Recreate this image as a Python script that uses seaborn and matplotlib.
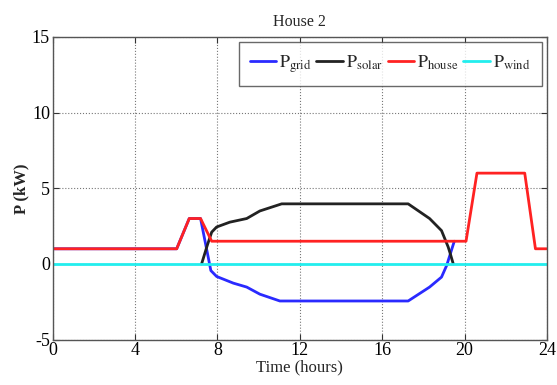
import matplotlib
matplotlib.use("Agg")
import matplotlib.pyplot as plt
import seaborn as sns
import pandas as pd

# ---- data ----
t_grid = [0, 6.02, 6.63, 7.18, 7.68, 7.96, 8.77, 9.42, 10.06, 11.03, 17.26, 18.3, 18.88, 19.13, 19.5]
p_grid = [1, 1, 3, 3, -0.44, -0.83, -1.27, -1.53, -2.0, -2.45, -2.45, -1.53, -0.87, -0.1, 1.5]

t_solar = [7.23, 7.5, 7.72, 7.96, 8.6, 9.42, 10.06, 11.12, 17.26, 18.3, 18.88, 19.2, 19.3, 19.45]
p_solar = [0, 1.2, 2.1, 2.44, 2.76, 3.0, 3.5, 3.97, 3.97, 3.0, 2.2, 1.13, 0.7, 0]

t_house = [0, 6.02, 6.63, 7.18, 7.72, 20.07, 20.6, 22.92, 23.44, 24]
p_house = [1, 1, 3, 3, 1.5, 1.5, 6, 6, 1, 1]

t_wind = [0, 24]
p_wind = [0, 0]

x_ticks = [0, 4, 8, 12, 16, 20, 24]
y_ticks = [-5, 0, 5, 10, 15]

sns.set_theme(style="white")
plt.rcParams['font.family'] = ['Liberation Serif', 'DejaVu Serif']
plt.rcParams['mathtext.fontset'] = 'stix'
plt.rcParams['axes.unicode_minus'] = False

fig = plt.figure(figsize=(5.57, 3.85), dpi=100)
ax = fig.add_axes([0.0946, 0.118, 0.8874, 0.786])

lw = 2.0
sns.lineplot(x=t_grid, y=p_grid, color='#2a2aff', lw=lw, label=r'$\mathrm{P}_{\mathrm{grid}}$', ax=ax, sort=False)
sns.lineplot(x=t_solar, y=p_solar, color='#222222', lw=lw, label=r'$\mathrm{P}_{\mathrm{solar}}$', ax=ax, sort=False)
sns.lineplot(x=t_house, y=p_house, color='#ff2222', lw=lw, label=r'$\mathrm{P}_{\mathrm{house}}$', ax=ax, sort=False)
sns.lineplot(x=t_wind, y=p_wind, color='#22eeee', lw=lw, label=r'$\mathrm{P}_{\mathrm{wind}}$', ax=ax, sort=False)

ax.set_xlim(0, 24)
ax.set_ylim(-5, 15)
ax.set_xticks(x_ticks)
ax.set_yticks(y_ticks)
ax.tick_params(axis='both', direction='in', length=4, width=0.8, colors='#333333',
               labelsize=13, labelcolor='black', top=True, right=True, bottom=True, left=True, pad=2)
ax.grid(True, linestyle=':', color='#777777', linewidth=0.8)
for s in ax.spines.values():
    s.set_color('#555555')
    s.set_linewidth(1.0)

ax.set_title('House 2', fontsize=11.5, pad=8)
ax.set_xlabel('Time (hours)', fontsize=12, labelpad=0)
ax.set_ylabel('P (kW)', fontsize=12, fontweight='bold', labelpad=2)

leg = ax.legend(loc='upper right', ncol=4, fontsize=13, frameon=True, fancybox=False,
                handlelength=1.45, handletextpad=0.2, columnspacing=0.25,
                borderpad=0.6, borderaxespad=0.3)
leg.get_frame().set_edgecolor('#444444')
leg.get_frame().set_linewidth(1.0)

fig.savefig('out.png', dpi=100)
